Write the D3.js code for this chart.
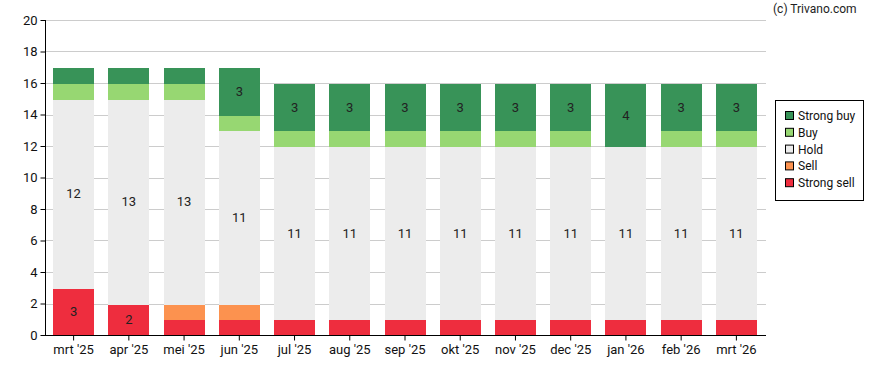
<!DOCTYPE html>
<html>
<head>
<meta charset="utf-8">
<script src="https://d3js.org/d3.v7.min.js"></script>
<style>
  body { margin: 0; background: #fff; }
  text { font-family: Roboto, "Noto Sans", sans-serif; }
</style>
</head>
<body>
<svg id="chart" width="888" height="370"></svg>
<script>
// data
var months = ["mrt '25", "apr '25", "mei '25", "jun '25", "jul '25", "aug '25", "sep '25",
              "okt '25", "nov '25", "dec '25", "jan '26", "feb '26", "mrt '26"];
var strongSell = [3, 2, 1, 1, 1, 1, 1, 1, 1, 1, 1, 1, 1];
var sell       = [0, 0, 1, 1, 0, 0, 0, 0, 0, 0, 0, 0, 0];
var hold       = [12, 13, 13, 11, 11, 11, 11, 11, 11, 11, 11, 11, 11];
var buy        = [1, 1, 1, 1, 1, 1, 1, 1, 1, 1, 0, 1, 1];
var strongBuy  = [1, 1, 1, 3, 3, 3, 3, 3, 3, 3, 4, 3, 3];
var yTicks = [0, 2, 4, 6, 8, 10, 12, 14, 16, 18, 20];

var seriesNames = ["Strong sell", "Sell", "Hold", "Buy", "Strong buy"];
var seriesData = [strongSell, sell, hold, buy, strongBuy];
var colors = {
  "Strong sell": "#ee2d3e",
  "Sell": "#fc924f",
  "Hold": "#ececec",
  "Buy": "#97d772",
  "Strong buy": "#389358"
};

var svg = d3.select("#chart");
var plotLeft = 46, plotRight = 764, plotTop = 20, plotBottom = 335;

var table = months.map(function (m, i) {
  var row = { month: m };
  seriesNames.forEach(function (s, j) { row[s] = seriesData[j][i]; });
  return row;
});
var stacked = d3.stack().keys(seriesNames)(table);

var x = d3.scaleBand().domain(months).range([plotLeft, plotRight])
  .paddingInner(0.26).paddingOuter(0.13);
var y = d3.scaleLinear().domain([0, 20]).range([plotBottom, plotTop]);

// gridlines
svg.append("g").selectAll("line")
  .data(yTicks.filter(function (d) { return d > 0; }))
  .enter().append("line")
  .attr("x1", plotLeft).attr("x2", 766)
  .attr("y1", function (d) { return Math.round(y(d)) + 0.5; })
  .attr("y2", function (d) { return Math.round(y(d)) + 0.5; })
  .attr("stroke", "#cccccc").attr("stroke-width", 1);

// bars
var layers = svg.append("g").selectAll("g")
  .data(stacked).enter().append("g")
  .attr("fill", function (d) { return colors[d.key]; });

layers.selectAll("rect")
  .data(function (d) { return d; })
  .enter().append("rect")
  .attr("x", function (d) { return Math.round(x(d.data.month)); })
  .attr("width", Math.round(x.bandwidth()))
  .attr("y", function (d) { return Math.round(y(d[1])) + 1; })
  .attr("height", function (d) {
    var h = Math.round(y(d[0])) - Math.round(y(d[1]));
    return h > 0 ? h : 0;
  });

// value labels (only values above 1)
stacked.forEach(function (layer) {
  svg.append("g").selectAll("text")
    .data(layer.filter(function (d) { return d[1] - d[0] > 1; }))
    .enter().append("text")
    .attr("x", function (d) { return x(d.data.month) + x.bandwidth() / 2; })
    .attr("y", function (d) { return (y(d[0]) + y(d[1])) / 2 + 5; })
    .attr("text-anchor", "middle")
    .attr("font-size", 13)
    .attr("fill", "#222")
    .text(function (d) { return d[1] - d[0]; });
});

// axes
var yAxis = svg.append("g")
  .attr("transform", "translate(" + (plotLeft - 0.5) + ",0)")
  .call(d3.axisLeft(y).tickValues(yTicks).tickSize(5).tickSizeOuter(0).tickPadding(3));
var xAxis = svg.append("g")
  .attr("transform", "translate(0," + (plotBottom + 0.5) + ")")
  .call(d3.axisBottom(x).tickSize(5).tickSizeOuter(0).tickPadding(4));

[yAxis, xAxis].forEach(function (a) {
  a.select(".domain").attr("stroke", "#000");
  a.selectAll(".tick line").attr("stroke", "#000");
  a.selectAll(".tick text").attr("font-size", 13).attr("fill", "#111")
    .attr("font-family", "Roboto, 'Noto Sans', sans-serif");
});
xAxis.select(".domain").attr("d", "M" + plotLeft + ",0H" + (plotRight + 2));
yAxis.select(".domain").attr("d", "M0," + plotTop + "V" + (plotBottom + 1));

// copyright
svg.append("text")
  .attr("x", 773).attr("y", 13)
  .attr("font-size", 12).attr("fill", "#222")
  .text("(c) Trivano.com");

// legend
var legend = svg.append("g");
legend.append("rect")
  .attr("x", 775.5).attr("y", 100.5).attr("width", 88).attr("height", 100)
  .attr("fill", "#fff").attr("stroke", "#000");
var legendItems = seriesNames.slice().reverse();
var li = legend.selectAll("g.item").data(legendItems).enter().append("g")
  .attr("transform", function (d, i) { return "translate(785," + (111 + i * 16.8) + ")"; });
li.append("rect")
  .attr("x", 0.5).attr("y", 0.5).attr("width", 8).attr("height", 8)
  .attr("fill", function (d) { return colors[d]; })
  .attr("stroke", "#000");
li.append("text")
  .attr("x", 13).attr("y", 9)
  .attr("font-size", 12).attr("fill", "#111")
  .text(function (d) { return d; });
</script>
</body>
</html>
